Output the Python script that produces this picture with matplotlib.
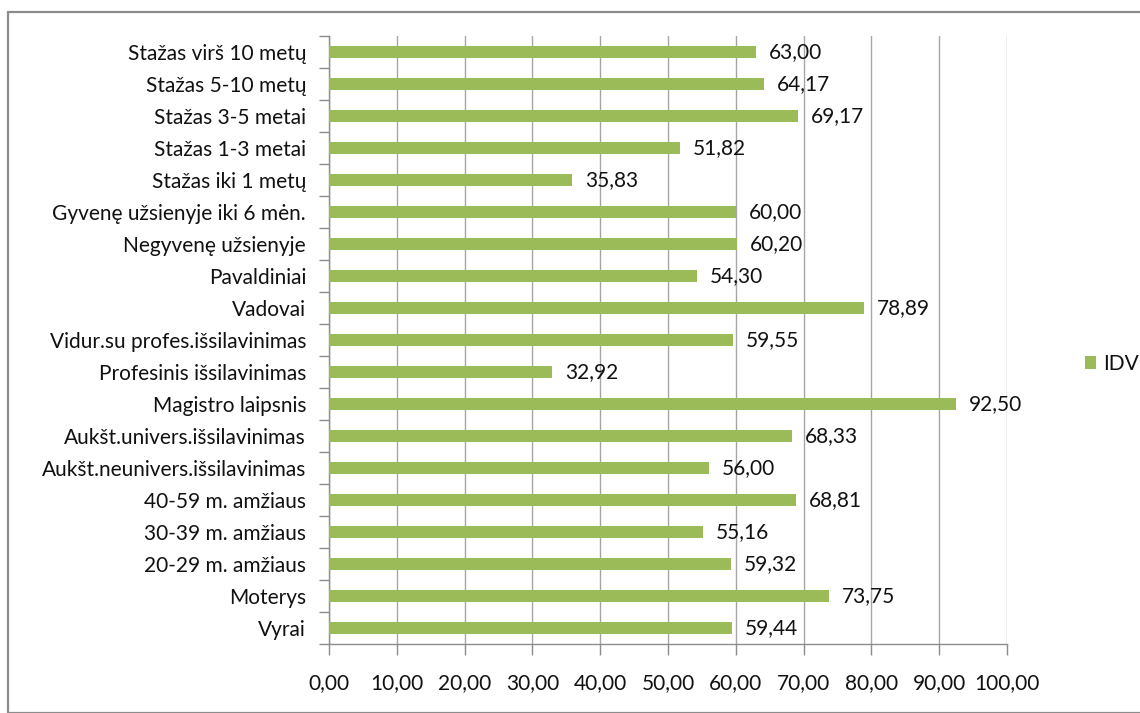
import matplotlib.pyplot as plt
from matplotlib.patches import Rectangle
from matplotlib.ticker import FuncFormatter

plt.rcParams["font.family"] = ["Lato", "DejaVu Sans"]

# categories from bottom to top
categories = [
    "Vyrai", "Moterys", "20-29 m. amžiaus", "30-39 m. amžiaus",
    "40-59 m. amžiaus", "Aukšt.neunivers.išsilavinimas",
    "Aukšt.univers.išsilavinimas", "Magistro laipsnis",
    "Profesinis išsilavinimas", "Vidur.su profes.išsilavinimas",
    "Vadovai", "Pavaldiniai", "Negyvenę užsienyje",
    "Gyvenę užsienyje iki 6 mėn.", "Stažas iki 1 metų",
    "Stažas 1-3 metai", "Stažas 3-5 metai", "Stažas 5-10 metų",
    "Stažas virš 10 metų",
]
idv = [59.44, 73.75, 59.32, 55.16, 68.81, 56.00, 68.33, 92.50, 32.92,
       59.55, 78.89, 54.30, 60.20, 60.00, 35.83, 51.82, 69.17, 64.17,
       63.00]
xticks = list(range(0, 101, 10))

green = "#9BBB59"
fs = 15
W, H = 1140, 713
fig = plt.figure(figsize=(W / 100, H / 100), dpi=100)

# outer chart frame
fig.patches.append(Rectangle((8 / W, 0), 1.2, 1 - 12 / H, transform=fig.transFigure,
                             fill=False, edgecolor="#8c8c8c", linewidth=1.6))

ax = fig.add_axes([329 / W, 1 - 644 / H, (1007 - 329) / W, (644 - 36) / H])
y = list(range(len(categories)))
bars = ax.barh(y, idv, height=0.38, color=green, zorder=3, label="IDV")

fmt = lambda v: f"{v:.2f}".replace(".", ",")
for b, v in zip(bars, idv):
    ax.text(v + 1.9, b.get_y() + b.get_height() / 2, fmt(v), va="center",
            ha="left", fontsize=fs, color="#111111", zorder=4)

ax.set_xlim(0, 100)
ax.set_ylim(-0.5, len(categories) - 0.5)
ax.set_xticks(xticks)
ax.xaxis.set_major_formatter(FuncFormatter(lambda v, p: fmt(v)))
ax.set_yticks(y)
ax.set_yticklabels(categories)
ax.set_yticks([i - 0.5 for i in range(len(categories) + 1)], minor=True)
ax.tick_params(axis="y", which="major", length=0, pad=16.5, labelsize=fs,
               labelcolor="#111111")
ax.tick_params(axis="y", which="minor", length=7, color="#8c8c8c", width=1)
ax.tick_params(axis="x", length=8, color="#8c8c8c", width=1, pad=13,
               labelsize=fs, labelcolor="#111111")
ax.grid(axis="x", color="#a6a6a6", linewidth=1, zorder=0)
for s in ["top", "right"]:
    ax.spines[s].set_visible(False)
for s in ["left", "bottom"]:
    ax.spines[s].set_color("#8c8c8c")
    ax.spines[s].set_linewidth(1)

fig.legend(handles=[bars], labels=["IDV"], loc="center left",
           bbox_to_anchor=(1066 / W, 1 - 364 / H), frameon=False,
           fontsize=fs, handlelength=0.55, handleheight=0.55,
           handletextpad=0.35, labelcolor="#111111")

fig.savefig("out.png", dpi=100)
